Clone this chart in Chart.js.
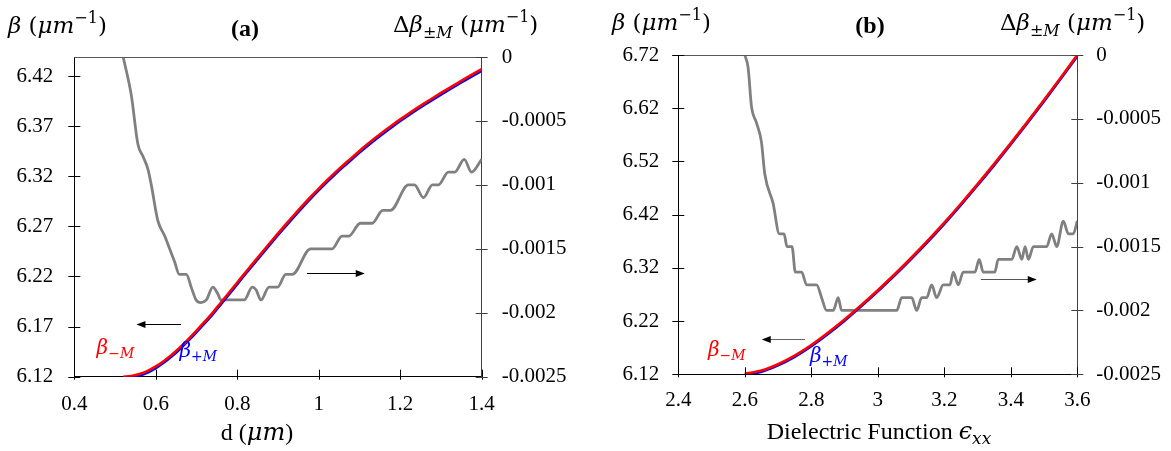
<!DOCTYPE html>
<html>
<head>
<meta charset="utf-8">
<script src="https://cdn.jsdelivr.net/npm/chart.js@4.4.0/dist/chart.umd.min.js"></script>
<style>
  html, body { margin: 0; padding: 0; background: #fff; }
  #wrap { position: relative; width: 1171px; height: 451px; overflow: hidden; }
  .panel { position: absolute; top: 0; height: 451px; }
</style>
</head>
<body>
<div id="wrap">
  <div class="panel" style="left:0;width:585px"><canvas id="chartA" width="585" height="451"></canvas></div>
  <div class="panel" style="left:585px;width:586px"><canvas id="chartB" width="586" height="451"></canvas></div>
</div>
<script>
// ---------- Panel (a): propagation constant vs thickness d ----------
const thicknessD = [0.52,0.54,0.56,0.58,0.60,0.62,0.64,0.66,0.68,0.70,0.72,0.74,0.76,0.78,0.80,0.82,0.84,0.86,0.88,0.90,
  0.92,0.94,0.96,0.98,1.00,1.02,1.04,1.06,1.08,1.10,1.12,1.14,1.16,1.18,1.20,1.22,1.24,1.26,1.28,1.30,1.32,1.34,1.36,1.38,1.40];
const betaMinusA = [6.1200,6.1207,6.1226,6.1258,6.1302,6.1357,6.1422,6.1495,6.1575,6.1660,6.1749,6.1840,6.1940,6.2040,6.2140,
  6.2240,6.2339,6.2437,6.2534,6.2630,6.2724,6.2816,6.2906,6.2993,6.3077,6.3158,6.3236,6.3310,6.3381,6.3453,6.3521,6.3586,
  6.3649,6.3709,6.3767,6.3823,6.3877,6.3930,6.3981,6.4031,6.4080,6.4128,6.4176,6.4223,6.4269];
const betaPlusA = [6.1190,6.1193,6.1211,6.1243,6.1287,6.1342,6.1407,6.1480,6.1560,6.1645,6.1734,6.1825,6.1925,6.2025,6.2125,
  6.2225,6.2324,6.2422,6.2519,6.2615,6.2709,6.2801,6.2891,6.2978,6.3062,6.3143,6.3221,6.3295,6.3366,6.3438,6.3506,6.3571,
  6.3634,6.3694,6.3752,6.3808,6.3862,6.3915,6.3966,6.4016,6.4065,6.4113,6.4161,6.4208,6.4254];
const deltaXA = [0.520,0.540,0.556,0.569,0.581,0.589,0.605,0.622,0.634,0.646,0.658,0.675,0.687,0.699,0.711,0.724,0.740,0.752,
  0.760,0.772,0.805,0.817,0.837,0.846,0.858,0.878,0.899,0.919,0.935,0.980,1.033,1.057,1.074,1.102,1.131,1.157,1.176,1.220,
  1.235,1.257,1.279,1.294,1.318,1.334,1.357,1.375,1.400];
const deltaA = [0,-0.00030,-0.00068,-0.00078,-0.00088,-0.00100,-0.00128,-0.00140,-0.00150,-0.00160,-0.00170,-0.00170,-0.00180,
  -0.00190,-0.00192,-0.00190,-0.00180,-0.00185,-0.00190,-0.00190,-0.00190,-0.00190,-0.00180,-0.00182,-0.00190,-0.00180,
  -0.00180,-0.00170,-0.00170,-0.00150,-0.00150,-0.00140,-0.00140,-0.00130,-0.00130,-0.00120,-0.00120,-0.00100,-0.00100,
  -0.00110,-0.00100,-0.00100,-0.00090,-0.00090,-0.00080,-0.00090,-0.00080];
const xTicksA = [0.4,0.6,0.8,1.0,1.2,1.4];
const xLabelsA = ['0.4','0.6','0.8','1','1.2','1.4'];
const yTicksA = [6.12,6.17,6.22,6.27,6.32,6.37,6.42];
const yLabelsA = ['6.12','6.17','6.22','6.27','6.32','6.37','6.42'];

// ---------- Panel (b): propagation constant vs dielectric function ----------
const epsB = [2.60,2.65,2.70,2.75,2.80,2.85,2.90,2.95,3.00,3.05,3.10,3.15,3.20,3.25,3.30,3.35,3.40,3.45,3.50,3.55,3.60];
const betaMinusB = [6.1210,6.1270,6.1390,6.1550,6.1750,6.1980,6.2230,6.2498,6.2780,6.3075,6.3385,6.3710,6.4050,6.4405,
  6.4773,6.5153,6.5543,6.5943,6.6353,6.6773,6.7200];
const betaPlusB = [6.1190,6.1250,6.1370,6.1530,6.1730,6.1960,6.2210,6.2478,6.2760,6.3055,6.3365,6.3690,6.4030,6.4385,
  6.4753,6.5133,6.5523,6.5923,6.6333,6.6753,6.7180];
const deltaXB = [2.600,2.610,2.620,2.635,2.650,2.660,2.685,2.704,2.718,2.727,2.742,2.752,2.771,2.786,2.816,2.831,2.846,2.866,
  2.881,2.891,3.057,3.072,3.102,3.117,3.132,3.147,3.162,3.177,3.197,3.217,3.227,3.242,3.257,3.292,3.305,3.317,3.352,3.362,
  3.403,3.418,3.433,3.443,3.453,3.468,3.508,3.523,3.538,3.558,3.573,3.588,3.600];
const deltaB = [0,-0.00010,-0.00040,-0.00053,-0.00068,-0.00093,-0.00116,-0.00140,-0.00140,-0.00150,-0.00150,-0.00170,-0.00170,
  -0.00180,-0.00180,-0.00190,-0.00200,-0.00200,-0.00190,-0.00200,-0.00200,-0.00190,-0.00190,-0.00200,-0.00190,-0.00190,
  -0.00180,-0.00190,-0.00180,-0.00180,-0.00170,-0.00180,-0.00170,-0.00170,-0.00160,-0.00170,-0.00170,-0.00160,-0.00160,
  -0.00150,-0.00160,-0.00150,-0.00160,-0.00150,-0.00150,-0.00140,-0.00150,-0.00130,-0.00140,-0.00140,-0.00130];
const xTicksB = [2.4,2.6,2.8,3.0,3.2,3.4,3.6];
const xLabelsB = ['2.4','2.6','2.8','3','3.2','3.4','3.6'];
const yTicksB = [6.12,6.22,6.32,6.42,6.52,6.62,6.72];
const yLabelsB = ['6.12','6.22','6.32','6.42','6.52','6.62','6.72'];

// shared right axis (difference between the two modes)
const dTicks = [-0.0025,-0.002,-0.0015,-0.001,-0.0005,0];
const dLabels = ['-0.0025','-0.002','-0.0015','-0.001','-0.0005','0'];

const SERIF = "'Liberation Serif', 'Times New Roman', serif";
const MATH = "'DejaVu Serif', 'Liberation Serif', serif";
Chart.defaults.font.family = SERIF;

function pts(xs, ys) { return xs.map((x, i) => ({ x: x, y: ys[i] })); }

function drawRuns(ctx, x, y, runs, color, align) {
  ctx.fillStyle = color;
  ctx.textBaseline = 'alphabetic';
  ctx.textAlign = 'left';
  let w = 0;
  runs.forEach(r => { ctx.font = r.font; w += ctx.measureText(r.t).width; });
  let cx = align === 'center' ? x - w / 2 : (align === 'right' ? x - w : x);
  runs.forEach(r => {
    ctx.font = r.font;
    ctx.fillText(r.t, cx, y + (r.dy || 0));
    cx += ctx.measureText(r.t).width;
  });
}

function betaHeader(s) {
  return [
    { t: 'β', font: `italic ${s}px ${MATH}` },
    { t: ' (', font: `${s}px ${MATH}` },
    { t: 'μm', font: `italic ${s}px ${MATH}` },
    { t: '−1', font: `${Math.round(s * 0.7)}px ${MATH}`, dy: -s * 0.42 },
    { t: ')', font: `${s}px ${MATH}` }
  ];
}
function deltaHeader(s) {
  const sub = Math.round(s * 0.7);
  return [
    { t: 'Δ', font: `${s}px ${MATH}` },
    { t: 'β', font: `italic ${s}px ${MATH}` },
    { t: '±', font: `${sub}px ${MATH}`, dy: s * 0.25 },
    { t: 'M', font: `italic ${sub}px ${MATH}`, dy: s * 0.25 },
    { t: ' (', font: `${s}px ${MATH}` },
    { t: 'μm', font: `italic ${s}px ${MATH}` },
    { t: '−1', font: `${sub}px ${MATH}`, dy: -s * 0.42 },
    { t: ')', font: `${s}px ${MATH}` }
  ];
}
function modeLabel(sign, s) {
  const sub = Math.round(s * 0.7);
  return [
    { t: 'β', font: `italic ${s}px ${MATH}` },
    { t: sign + 'M', font: `italic ${sub}px ${MATH}`, dy: s * 0.22 }
  ];
}

function line(ctx, x1, y1, x2, y2) {
  ctx.beginPath(); ctx.moveTo(x1, y1); ctx.lineTo(x2, y2); ctx.stroke();
}
function arrow(ctx, x1, y, x2, shaft, head) {
  const dir = Math.sign(x2 - x1);
  ctx.strokeStyle = shaft; ctx.lineWidth = 1.2;
  line(ctx, x1, y, x2 - dir * 6, y);
  ctx.fillStyle = head;
  ctx.beginPath();
  ctx.moveTo(x2, y); ctx.lineTo(x2 - dir * 9, y - 3.5); ctx.lineTo(x2 - dir * 9, y + 3.5);
  ctx.closePath(); ctx.fill();
}

// frame line, crossing tick marks, arrows and text labels
const decor = {
  id: 'decor',
  afterDraw(chart, args, o) {
    const { ctx, chartArea: a, scales } = chart;
    const r = v => Math.round(v) + 0.5;
    ctx.save();
    ctx.lineWidth = 1;
    ctx.strokeStyle = '#595959';
    line(ctx, a.left - o.topTickLeft, r(a.top), a.right, r(a.top));
    ctx.strokeStyle = '#000';
    scales.x.ticks.forEach(t => {
      const px = r(scales.x.getPixelForValue(t.value));
      line(ctx, px, a.bottom - 7, px, a.bottom + 3);
    });
    scales.y.ticks.forEach(t => {
      const py = r(scales.y.getPixelForValue(t.value));
      line(ctx, a.left - 6, py, a.left + 6, py);
    });
    ctx.strokeStyle = '#404040';
    scales.y2.ticks.forEach(t => {
      const py = r(scales.y2.getPixelForValue(t.value));
      line(ctx, a.right - 6, py, a.right + 6, py);
    });
    o.arrows.forEach(ar => {
      const ys = scales[ar.axis];
      arrow(ctx, scales.x.getPixelForValue(ar.x1), r(ys.getPixelForValue(ar.y)),
            scales.x.getPixelForValue(ar.x2), ar.shaft, '#000');
    });
    o.modeLabels.forEach(l => {
      drawRuns(ctx, scales.x.getPixelForValue(l.x), scales.y.getPixelForValue(l.y),
               modeLabel(l.sign, 20), l.color, 'left');
    });
    drawRuns(ctx, o.betaHead[0], o.betaHead[1], betaHeader(23), '#000', 'left');
    drawRuns(ctx, o.deltaHead[0], o.deltaHead[1], deltaHeader(23), '#000', 'left');
    drawRuns(ctx, o.tag[0], o.tag[1], [{ t: o.tag[2], font: `bold 24px ${SERIF}` }], '#000', 'center');
    drawRuns(ctx, o.xTitle[0], o.xTitle[1], o.xTitle[2], '#000', 'center');
    ctx.restore();
  }
};

function axisTicks(values, labels) {
  return {
    afterBuildTicks: s => { s.ticks = values.map(v => ({ value: v })); },
    callback: v => {
      const i = values.findIndex(t => Math.abs(t - v) < 1e-9);
      return i >= 0 ? labels[i] : '';
    }
  };
}

function makeChart(id, c) {
  const xt = axisTicks(c.xTicks, c.xLabels);
  const yt = axisTicks(c.yTicks, c.yLabels);
  const dt = axisTicks(dTicks, dLabels);
  const tickFont = () => ({ family: SERIF, size: 21, style: 'normal', weight: 'normal' });
  const noGrid = { display: false, drawTicks: false, tickLength: 0 };
  return new Chart(document.getElementById(id), {
    type: 'line',
    data: {
      datasets: [
        { data: pts(c.xs, c.minus), yAxisID: 'y', borderColor: '#ff0000', borderWidth: 2.6 },
        { data: pts(c.xs, c.plus), yAxisID: 'y', borderColor: '#0000ff', borderWidth: 2.8 },
        { data: pts(c.dxs, c.delta), yAxisID: 'y2', borderColor: '#808080', borderWidth: 2.8 }
      ]
    },
    options: {
      responsive: false,
      animation: false,
      devicePixelRatio: 1,
      layout: { padding: { top: c.top, left: 0, right: 0, bottom: 0 } },
      elements: {
        point: { radius: 0 },
        line: { cubicInterpolationMode: 'monotone', fill: false }
      },
      plugins: {
        legend: { display: false },
        tooltip: { enabled: false },
        decor: c.decor
      },
      scales: {
        x: {
          type: 'linear', min: c.xTicks[0], max: c.xTicks[c.xTicks.length - 1],
          grid: noGrid,
          border: { display: true, color: '#000', width: 1 },
          ticks: { font: tickFont(), color: '#000', padding: c.xPad, autoSkip: false, maxRotation: 0, callback: xt.callback },
          afterBuildTicks: xt.afterBuildTicks,
          afterFit: s => { s.height = c.xH; }
        },
        y: {
          type: 'linear', position: 'left', min: c.yMin, max: c.yMax,
          grid: noGrid,
          border: { display: true, color: '#000', width: 1 },
          ticks: { font: tickFont(), color: '#000', padding: c.yPad, autoSkip: false, callback: yt.callback },
          afterBuildTicks: yt.afterBuildTicks,
          afterFit: s => { s.width = c.yW; }
        },
        y2: {
          type: 'linear', position: 'right', min: -0.0025, max: 0,
          grid: noGrid,
          border: { display: true, color: '#404040', width: 1 },
          ticks: { font: tickFont(), color: '#000', padding: c.y2Pad, autoSkip: false, callback: dt.callback },
          afterBuildTicks: dt.afterBuildTicks,
          afterFit: s => { s.width = c.y2W; }
        }
      }
    },
    plugins: [decor]
  });
}

makeChart('chartA', {
  xs: thicknessD, minus: betaMinusA, plus: betaPlusA, dxs: deltaXA, delta: deltaA,
  xTicks: xTicksA, xLabels: xLabelsA, yTicks: yTicksA, yLabels: yLabelsA,
  yMin: 6.12, yMax: 6.439,
  top: 57, xH: 74.3, yW: 74.3, y2W: 103.3, xPad: 15, yPad: 21, y2Pad: 20,
  decor: {
    topTickLeft: 0,
    arrows: [
      { axis: 'y', y: 6.1726, x1: 0.662, x2: 0.5525, shaft: '#000' },
      { axis: 'y2', y: -0.00169, x1: 0.971, x2: 1.113, shaft: '#000' }
    ],
    modeLabels: [
      { sign: '−', x: 0.4547, y: 6.1427, color: '#ff0000' },
      { sign: '+', x: 0.6583, y: 6.1400, color: '#0000ff' }
    ],
    betaHead: [8, 33],
    deltaHead: [393, 32],
    tag: [245, 36, '(a)'],
    xTitle: [257, 440, [
      { t: 'd (', font: `24px ${SERIF}` },
      { t: 'μm', font: `italic 24px ${MATH}` },
      { t: ')', font: `24px ${SERIF}` }
    ]]
  }
});

makeChart('chartB', {
  xs: epsB, minus: betaMinusB, plus: betaPlusB, dxs: deltaXB, delta: deltaB,
  xTicks: xTicksB, xLabels: xLabelsB, yTicks: yTicksB, yLabels: yLabelsB,
  yMin: 6.12, yMax: 6.72,
  top: 55, xH: 76.7, yW: 93.3, y2W: 93.7, xPad: 14, yPad: 19, y2Pad: 19,
  decor: {
    topTickLeft: 6,
    arrows: [
      { axis: 'y', y: 6.1863, x1: 2.781, x2: 2.651, shaft: '#666' },
      { axis: 'y2', y: -0.001754, x1: 3.310, x2: 3.478, shaft: '#555' }
    ],
    modeLabels: [
      { sign: '−', x: 2.4893, y: 6.1544, color: '#ff0000' },
      { sign: '+', x: 2.7961, y: 6.1431, color: '#0000ff' }
    ],
    betaHead: [27, 30],
    deltaHead: [415, 30],
    tag: [285, 33, '(b)'],
    xTitle: [294, 439, [
      { t: 'Dielectric Function ', font: `24px ${SERIF}` },
      { t: 'ϵ', font: `italic 24px ${MATH}` },
      { t: 'xx', font: `italic 17px ${MATH}`, dy: 5 }
    ]]
  }
});
</script>
</body>
</html>
